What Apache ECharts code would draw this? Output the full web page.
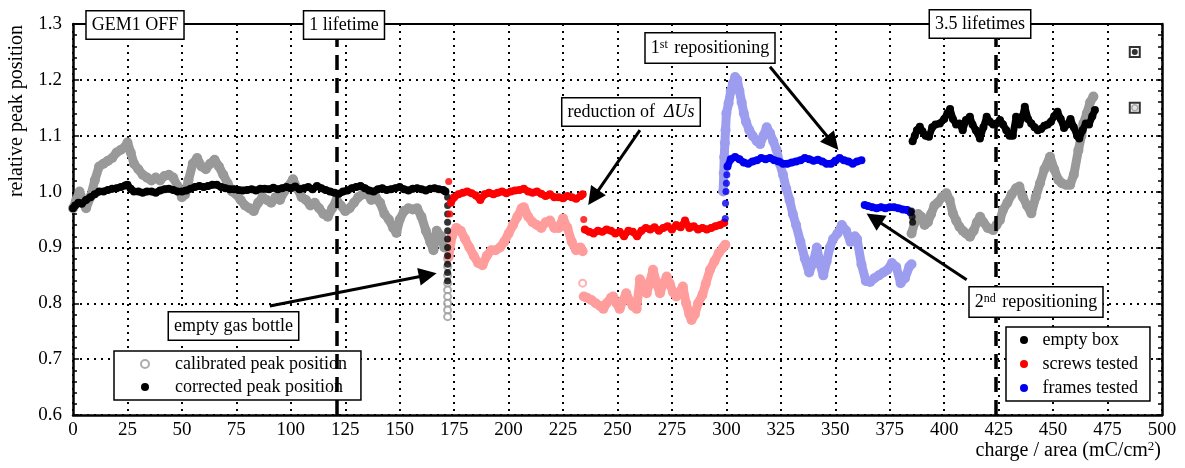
<!DOCTYPE html>
<html>
<head>
<meta charset="utf-8">
<script src="https://cdn.jsdelivr.net/npm/echarts@6/dist/echarts.min.js"></script>
<style>
  html, body { margin: 0; padding: 0; background: #fff; }
  #chart { width: 1185px; height: 468px; }
</style>
</head>
<body>
<div id="chart"></div>
<script>
// calibrated peak position (open circles)
var calGray1 = [[0,0.97],[1.5,0.985],[3,1.0],[4.5,0.985],[6,0.97],[8,0.99],[10,1.02],[12,1.045],[14,1.05],[16,1.055],[18,1.06],[20,1.07],[22,1.075],[24,1.08],[25,1.088],[26.5,1.07],[28,1.05],[30,1.04],[32,1.03],[34,1.025],[36,1.02],[38,1.025],[40,1.02],[42,1.028],[44,1.03],[46,1.025],[48,1.01],[50,0.99],[51.5,0.995],[53,1.02],[55,1.05],[57,1.06],[59,1.045],[61,1.04],[63,1.05],[65,1.057],[67,1.045],[69,1.03],[71,1.015],[73,1.0],[75,0.995],[77,0.985],[79,0.975],[81,0.97],[83,0.965],[85,0.98],[87,0.99],[89,0.985],[91,0.98],[93,0.99],[95,0.985],[97,1.0],[99,1.01],[101,1.022],[103,1.005],[105,0.99],[107,0.985],[109,0.975],[111,0.98],[113,0.97],[115,0.96],[117,0.955],[119,0.97],[121,0.985],[123,0.975],[125,0.965],[127,0.97],[129,0.98],[131,0.99],[133,0.995],[135,0.997],[137,0.985],[139,0.99],[141,0.98],[143,0.96],[145,0.95],[147,0.935],[148.5,0.926],[150,0.95],[152,0.965],[154,0.97],[156,0.968],[158,0.97],[160,0.955],[162,0.93],[164,0.91],[165.5,0.895],[167,0.93],[169,0.92],[170.5,0.9]];
var calGrayDrop = [[172,0.88],[172,0.866],[172,0.85],[172,0.836],[172,0.824],[172,0.812],[172,0.8],[172,0.788],[172,0.776]];
var calPink1 = [[172.5,0.883],[174,0.92],[176,0.935],[178,0.93],[180,0.915],[182,0.9],[184,0.885],[186,0.872],[188,0.868],[190,0.885],[192,0.895],[194,0.895],[196,0.9],[198,0.91],[200,0.925],[202,0.94],[204,0.955],[206,0.97],[207,0.972],[209,0.955],[211,0.945],[213,0.94],[215,0.935],[217,0.945],[219,0.948],[221,0.935],[223,0.935],[225,0.952],[227,0.935],[229,0.91],[231,0.895],[233,0.9],[234,0.893]];
var calPinkJump = [[234,0.836]];
var calPink2 = [[234.5,0.812],[236,0.81],[238,0.806],[240,0.8],[242,0.795],[243.5,0.79],[245,0.8],[247,0.81],[248,0.812],[249.5,0.8],[251,0.79],[252.5,0.805],[254,0.818],[255.5,0.805],[257,0.795],[258.8,0.79],[260.3,0.843],[262,0.83],[263.4,0.818],[265,0.84],[266.3,0.86],[268,0.835],[269.5,0.818],[271,0.835],[272.6,0.848],[274,0.835],[275.5,0.82],[277,0.812],[278.5,0.82],[280,0.83],[281.5,0.8],[283,0.78],[284,0.77],[285.5,0.78],[287,0.8],[289,0.815],[290.5,0.835],[292.5,0.86],[294.5,0.875],[296.5,0.89],[298.5,0.9],[299.5,0.905]];
var calBlue = [[298.5,1.0],[298.8,1.033],[299,1.062],[299.3,1.087],[299.6,1.11],[300,1.14],[301,1.158],[302,1.18],[303,1.194],[304,1.205],[305,1.2],[306,1.18],[307,1.16],[308,1.14],[309,1.125],[310.5,1.11],[312,1.1],[314,1.09],[315.5,1.085],[317,1.1],[318.5,1.115],[320,1.105],[321.5,1.09],[323,1.075],[324.5,1.05],[326,1.03],[327.5,1.005],[329,0.985],[330.5,0.96],[332,0.94],[334,0.91],[336,0.88],[338,0.855],[340,0.875],[341.5,0.9],[343,0.87],[344.5,0.85],[346,0.875],[347.5,0.9],[349,0.915],[351,0.925],[353,0.94],[355,0.93],[357,0.91],[359,0.92],[360,0.915],[362,0.87],[364,0.84],[366,0.838],[368,0.845],[370,0.85],[372,0.855],[374,0.86],[376,0.872],[378,0.865],[380,0.836],[382,0.845],[384,0.866],[385,0.87]];
var calGray2 = [[385,0.925],[386.5,0.945],[388,0.96],[389.5,0.955],[391,0.94],[392.5,0.945],[394,0.96],[395.5,0.975],[397,0.98],[399,0.99],[401,0.997],[402.5,0.985],[404,0.961],[405.5,0.948],[407,0.937],[408.5,0.93],[410,0.925],[411.8,0.919],[413.5,0.93],[415,0.945],[416.5,0.955],[418,0.945],[420,0.935],[422.5,0.931],[424,0.94],[425.6,0.949],[427,0.967],[429,0.98],[431,0.995],[433,1.006],[434.5,1.009],[436,0.991],[438,0.975],[440,0.961],[442,0.99],[444,1.015],[446,1.04],[448.6,1.0625],[450.5,1.04],[452.4,1.021],[454,1.015],[456,1.012],[457.8,1.012],[459.5,1.03],[461.6,1.074],[463,1.1],[463.9,1.122],[465.5,1.14],[467,1.16],[468.5,1.17]];

// corrected peak position (filled dots)
var corBlack1 = [[0,0.97],[1,0.975],[2.5,0.98],[4,0.978],[6,0.985],[8,0.99],[10,0.995],[12,1.0],[14,1.0],[16,1.003],[18,1.005],[20,1.006],[22,1.008],[24,1.011],[25,1.012],[26.5,1.005],[28,1.0],[30,1.0],[32,0.998],[34,1.0],[36,1.0],[38,0.998],[40,1.002],[42,1.004],[44,1.005],[46,1.003],[48,1.0],[50,1.0],[52,1.002],[54,1.005],[56,1.008],[58,1.01],[60,1.008],[62,1.01],[64,1.012],[66,1.012],[68,1.008],[70,1.006],[72,1.004],[74,1.004],[76,1.003],[78,1.002],[80,1.003],[82,1.004],[84,1.002],[86,1.005],[88,1.005],[90,1.004],[92,1.007],[94,1.004],[96,1.006],[98,1.008],[100,1.006],[102,1.009],[104,1.004],[106,1.006],[108,1.008],[110,1.004],[112,1.01],[114,1.006],[116,1.003],[118,1.0],[120,0.998],[122,0.996],[124,1.0],[126,1.002],[128,1.006],[130,1.008],[132,1.01],[134,1.006],[136,1.002],[138,1.0],[140,1.004],[142,1.006],[144,1.003],[146,1.004],[148,1.006],[150,1.008],[152,1.004],[154,1.002],[156,1.005],[158,1.006],[160,1.004],[162,1.002],[164,1.005],[166,1.006],[168,1.004],[170,1.003],[171,1.0]];
var corBlackDrop = [[172,0.99],[172,0.975],[172,0.96],[172,0.945],[172,0.93],[172,0.915],[172,0.9],[172,0.885],[172,0.87],[172,0.855],[172,0.84]];
var corRedJump = [[172.5,1.018],[173,0.96],[234.5,0.95]];
var corRed1 = [[173.5,0.98],[175,0.99],[177,0.995],[179,0.998],[181,1.0],[183,0.997],[185,0.993],[187,0.985],[189,0.995],[191,0.998],[193,0.995],[195,0.998],[197,1.0],[199,0.997],[201,1.0],[203,1.002],[205,1.003],[207,1.005],[209,1.0],[211,0.998],[213,1.0],[215,0.996],[217,0.992],[219,0.995],[221,0.99],[223,0.99],[225,0.988],[227,0.992],[229,0.99],[231,0.987],[233,0.992],[234,0.995]];
var corRed2 = [[235,0.932],[237,0.928],[239,0.925],[241,0.93],[243,0.928],[245,0.932],[247,0.93],[249,0.925],[251,0.928],[253,0.92],[255,0.93],[257,0.928],[259,0.92],[261,0.93],[263,0.935],[265,0.932],[267,0.936],[269,0.93],[271,0.935],[273,0.938],[275,0.932],[277,0.94],[279,0.936],[281,0.948],[283,0.935],[285,0.938],[287,0.932],[289,0.935],[291,0.932],[293,0.935],[295,0.938],[297,0.94],[299,0.944]];
var corBlueRise = [[299.5,0.952],[299.6,0.979],[299.8,1.0],[300,1.015],[300.2,1.03]];
var corBlue1 = [[300.5,1.045],[302,1.058],[304,1.062],[306,1.058],[308,1.052],[310,1.05],[312,1.054],[314,1.056],[316,1.06],[318,1.058],[320,1.06],[322,1.056],[324,1.054],[326,1.05],[328,1.05],[330,1.052],[332,1.054],[334,1.056],[336,1.06],[338,1.058],[340,1.055],[342,1.057],[344,1.054],[346,1.05],[348,1.05],[350,1.055],[352,1.06],[354,1.056],[356,1.054],[358,1.05],[360,1.054],[362,1.056]];
var corBlue2 = [[363.5,0.976],[365,0.974],[367,0.972],[369,0.97],[371,0.972],[373,0.97],[375,0.972],[377,0.972],[379,0.97],[381,0.968],[383,0.967],[384.5,0.963]];
var corBlackStep = [[385,0.965],[385.3,0.955],[385.5,0.945]];
var corBlack2 = [[385.5,1.09],[386.5,1.1],[387.5,1.11],[388.8,1.116],[390,1.108],[391.5,1.1],[393,1.098],[394.5,1.115],[396,1.12],[398,1.122],[400,1.13],[401.5,1.14],[402.7,1.148],[404,1.13],[405.5,1.12],[407,1.122],[408.5,1.11],[410,1.128],[411.8,1.134],[413,1.12],[414.5,1.11],[416.4,1.095],[418,1.115],[419.5,1.134],[421,1.125],[422.5,1.12],[424,1.122],[425.6,1.128],[427,1.12],[428.5,1.11],[430,1.1],[431.5,1.1],[433,1.134],[434.5,1.12],[436,1.135],[437,1.152],[438.5,1.13],[440,1.122],[441.5,1.115],[443,1.11],[444.5,1.112],[446,1.118],[447.5,1.12],[449,1.125],[450.5,1.135],[452,1.143],[453.5,1.13],[455,1.114],[456.5,1.12],[458,1.13],[459.5,1.115],[461,1.1],[462,1.095],[463.5,1.11],[465,1.122],[466.5,1.12],[468,1.135],[469.2,1.146]];

// stray key symbols at the top right
var keyFilled = [[487.5,1.25]];
var keyOpen = [[487.5,1.15]];

// lifetimes (dashed lines) and arrows [from, to]
var lifetimes = [121, 423.5];
var arrows = [
  [[90.4,0.795],[162.9,0.8507]],
  [[260.3,1.110],[238.9,0.9893]],
  [[320.0,1.2236],[348.8,1.087]],
  [[410.3,0.842],[367.8,0.952]]
];

var FONT = 'Liberation Serif';
var GRAY = '#999999', PINK = '#ff9c9c', LBLUE = '#9d9df0';
var RED = '#ff0000', BLUE = '#0000f0', BLACK = '#000000';

function band(data, color, cal) {
  return {
    type: 'line', data: data, symbol: 'circle', symbolSize: cal ? 10 : 8,
    showSymbol: true, showAllSymbol: true, silent: true,
    lineStyle: { color: color, width: cal ? 9 : 7 },
    itemStyle: { color: color },
    z: cal ? 2 : 3
  };
}
function dots(data, color, cal) {
  return {
    type: 'scatter', data: data, silent: true,
    symbol: cal ? 'emptyCircle' : 'circle', symbolSize: 7,
    itemStyle: cal ? { color: color, borderColor: color, borderWidth: 1.6 } : { color: color },
    z: cal ? 2 : 3
  };
}
function key(name, color, cal) {
  return {
    name: name, type: 'scatter', data: [],
    symbol: cal ? 'emptyCircle' : 'circle',
    itemStyle: cal ? { color: color, borderColor: color, borderWidth: 2 } : { color: color, opacity: 1 }
  };
}
function box(text, cx, cy, rich) {
  return {
    type: 'text', x: cx, y: cy, z: 100,
    style: {
      text: text, fontFamily: FONT, fontSize: 18, fill: '#000',
      align: 'center', verticalAlign: 'middle',
      backgroundColor: '#fff', borderColor: '#000', borderWidth: 1.5,
      padding: [5, 5, 4, 5], rich: rich || {}
    }
  };
}

var chart = echarts.init(document.getElementById('chart'));

var lifeLines = {
  type: 'scatter', data: [], silent: true, z: 4,
  markLine: {
    silent: true, symbol: 'none', animation: false,
    label: { show: false },
    lineStyle: { color: BLACK, width: 3.5, type: [15, 8] },
    data: lifetimes.map(function (v) { return { xAxis: v }; })
  }
};
var arrowLines = {
  type: 'scatter', data: [], silent: true, z: 5,
  markLine: {
    silent: true, animation: false,
    symbol: ['none', 'triangle'], symbolSize: 18,
    label: { show: false },
    itemStyle: { color: BLACK },
    lineStyle: { color: BLACK, width: 3, type: 'solid' },
    data: arrows.map(function (a) { return [{ coord: a[0] }, { coord: a[1] }]; })
  }
};

var legendText = { fontFamily: FONT, fontSize: 18, color: '#000' };

chart.setOption({
  animation: false,
  backgroundColor: '#fff',
  grid: { left: 73, right: 23, top: 24, bottom: 53, containLabel: false, outerBoundsMode: 'none' },
  xAxis: [{
    type: 'value', min: 0, max: 500, interval: 25,
    axisLine: { show: true, onZero: false, lineStyle: { color: BLACK, width: 2.5 } },
    axisTick: { show: false },
    axisLabel: { color: BLACK, fontFamily: FONT, fontSize: 19, margin: 6 },
    splitLine: { show: true, lineStyle: { color: BLACK, width: 2, type: [2, 5] } }
  }, {
    type: 'value', position: 'top', min: 0, max: 500,
    axisLine: { show: true, onZero: false, lineStyle: { color: BLACK, width: 2 } },
    axisTick: { show: false }, axisLabel: { show: false }, splitLine: { show: false }
  }],
  yAxis: [{
    type: 'value', min: 0.6, max: 1.3, interval: 0.1,
    axisLine: { show: true, onZero: false, lineStyle: { color: BLACK, width: 2.5 } },
    axisTick: { show: true, inside: true, length: 6, lineStyle: { color: BLACK, width: 1.5 } },
    minorTick: { show: true, splitNumber: 5, length: 4, lineStyle: { color: BLACK, width: 1.5 } },
    axisLabel: { color: BLACK, fontFamily: FONT, fontSize: 19, margin: 11,
      formatter: function (v) { return v.toFixed(1); } },
    splitLine: { show: true, lineStyle: { color: BLACK, width: 2, type: [2, 5] } }
  }, {
    type: 'value', position: 'right', min: 0.6, max: 1.3, interval: 0.1,
    axisLine: { show: true, onZero: false, lineStyle: { color: BLACK, width: 2.5 } },
    axisTick: { show: true, inside: true, length: 6, lineStyle: { color: BLACK, width: 1.5 } },
    minorTick: { show: true, splitNumber: 5, length: 4, lineStyle: { color: BLACK, width: 1.5 } },
    axisLabel: { show: false }, splitLine: { show: false }
  }],
  legend: [{
    data: ['calibrated peak position', 'corrected peak position'],
    orient: 'vertical', left: 114, top: 351,
    itemWidth: 50, itemHeight: 8, itemGap: 5, padding: [4, 14, 4, 26],
    borderColor: BLACK, borderWidth: 1.5, backgroundColor: '#fff',
    textStyle: legendText, selectedMode: false
  }, {
    data: ['empty box', 'screws tested', 'frames tested'],
    orient: 'vertical', left: 1006, top: 327,
    itemWidth: 27, itemHeight: 8, itemGap: 6, padding: [4, 12, 4, 14],
    borderColor: BLACK, borderWidth: 1.5, backgroundColor: '#fff',
    textStyle: legendText, selectedMode: false
  }],
  graphic: [
    box('GEM1 OFF', 135, 25),
    box('1 lifetime', 344, 25),
    box('3.5 lifetimes', 980, 24),
    box('empty gas bottle', 233.5, 326),
    box('reduction of  {i|ΔUs}', 631, 112, { i: { fontFamily: FONT, fontSize: 18, fontStyle: 'italic' } }),
    box('1{s|st} repositioning', 710, 48, { s: { fontFamily: FONT, fontSize: 12, verticalAlign: 'top', padding: [0, 2, 8, 0] } }),
    box('2{s|nd} repositioning', 1036, 302, { s: { fontFamily: FONT, fontSize: 12, verticalAlign: 'top', padding: [0, 2, 8, 0] } }),
    {
      type: 'text', x: 17, y: 111, rotation: Math.PI / 2, z: 100,
      style: { text: 'relative peak position', fontFamily: FONT, fontSize: 20, fill: '#000',
        align: 'center', verticalAlign: 'middle' }
    },
    {
      type: 'text', right: 24, top: 440, z: 100,
      style: {
        text: 'charge / area (mC/cm{s|2})', fontFamily: FONT, fontSize: 20, fill: '#000',
        rich: { s: { fontFamily: FONT, fontSize: 13, verticalAlign: 'top', padding: [0, 0, 9, 0] } }
      }
    }
  ],
  series: [
    band(calGray1, GRAY, true),
    dots(calGrayDrop, GRAY, true),
    band(calPink1, PINK, true),
    dots(calPinkJump, PINK, true),
    band(calPink2, PINK, true),
    band(calBlue, LBLUE, true),
    band(calGray2, GRAY, true),
    band(corBlack1, BLACK, false),
    dots(corBlackDrop, BLACK, false),
    dots(corRedJump, RED, false),
    band(corRed1, RED, false),
    band(corRed2, RED, false),
    dots(corBlueRise, BLUE, false),
    band(corBlue1, BLUE, false),
    band(corBlue2, BLUE, false),
    dots(corBlackStep, BLACK, false),
    band(corBlack2, BLACK, false),
    {
      type: 'scatter', data: keyFilled.concat(keyOpen), symbol: 'rect', symbolSize: 10, silent: true, z: 3,
      itemStyle: { color: '#fff', borderColor: BLACK, borderWidth: 2 }
    },
    { type: 'scatter', data: keyFilled, symbol: 'circle', symbolSize: 6, silent: true, z: 4, itemStyle: { color: BLACK } },
    { type: 'scatter', data: keyOpen, symbol: 'circle', symbolSize: 6, silent: true, z: 4,
      itemStyle: { color: '#ddd', borderColor: GRAY, borderWidth: 1.5 } },
    lifeLines,
    arrowLines,
    key('calibrated peak position', GRAY, true),
    key('corrected peak position', BLACK, false),
    key('empty box', BLACK, false),
    key('screws tested', RED, false),
    key('frames tested', BLUE, false)
  ]
});
</script>
</body>
</html>
